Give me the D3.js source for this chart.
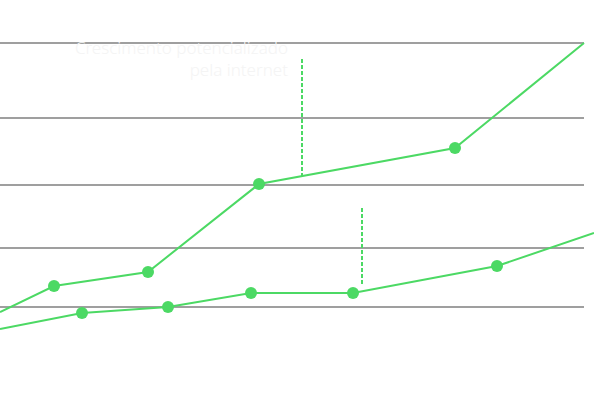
<!DOCTYPE html>
<html>
<head>
<meta charset="utf-8">
<script src="https://cdn.jsdelivr.net/npm/d3@7"></script>
<style>
  html, body { margin: 0; padding: 0; background: #ffffff; }
  svg { display: block; }
</style>
</head>
<body>
<div id="visual-container"></div>
<script>
// data
const gridValues = [93, 152, 215, 282, 357]
const upperX = [0, 54, 148, 259, 455, 584]
const upperY = [88, 114, 128, 216, 252, 357]
const lowerX = [0, 82, 168, 251, 353, 497, 594]
const lowerY = [71, 87, 93, 107, 107, 134, 167]
// dashed markers: [x, from value, to value]
const dashX = [302, 362]
const dashTop = [341, 192]
const dashBottom = [224, 115]
const noteLines = ["Crescimento potencializado", "pela internet"]

const width = 594
const height = 402
const green = "#4cd964"

const xScale = d3.scaleLinear().domain([0, 594]).range([0, 594])
const yScale = d3.scaleLinear().domain([0, 400]).range([400, 0])

const svg = d3.select("#visual-container")
  .append("svg")
  .attr("width", width)
  .attr("height", height)

// grid
svg.append("g")
  .selectAll("line")
  .data(gridValues)
  .enter()
  .append("line")
  .attr("x1", xScale(0))
  .attr("x2", xScale(584))
  .attr("y1", d => yScale(d))
  .attr("y2", d => yScale(d))
  .attr("stroke", "#7f7f7f")
  .attr("stroke-width", 1.5)

// note text
svg.append("text")
  .attr("text-anchor", "end")
  .attr("font-family", "'Noto Sans', sans-serif")
  .attr("font-weight", 300)
  .attr("font-size", 17)
  .attr("fill", "#f4f4f4")
  .selectAll("tspan")
  .data(noteLines)
  .enter()
  .append("tspan")
  .attr("x", 288)
  .attr("y", (d, i) => 54 + i * 22)
  .text(d => d)

// dashed lines
svg.append("g")
  .selectAll("line")
  .data(dashX)
  .enter()
  .append("line")
  .attr("x1", d => xScale(d))
  .attr("x2", d => xScale(d))
  .attr("y1", (d, i) => yScale(dashTop[i]))
  .attr("y2", (d, i) => yScale(dashBottom[i]))
  .attr("stroke", green)
  .attr("stroke-width", 2)
  .attr("stroke-dasharray", "4,2")

const line = d3.line()
  .x(d => xScale(d[0]))
  .y(d => yScale(d[1]))

const series = [
  upperX.map((x, i) => [x, upperY[i]]),
  lowerX.map((x, i) => [x, lowerY[i]])
]

series.forEach(pts => {
  svg.append("path")
    .datum(pts)
    .attr("d", line)
    .attr("fill", "none")
    .attr("stroke", green)
    .attr("stroke-width", 2)

  svg.append("g")
    .selectAll("circle")
    .data(pts.slice(1, -1))
    .enter()
    .append("circle")
    .attr("cx", d => xScale(d[0]))
    .attr("cy", d => yScale(d[1]))
    .attr("r", 6)
    .attr("fill", green)
})
</script>
</body>
</html>
